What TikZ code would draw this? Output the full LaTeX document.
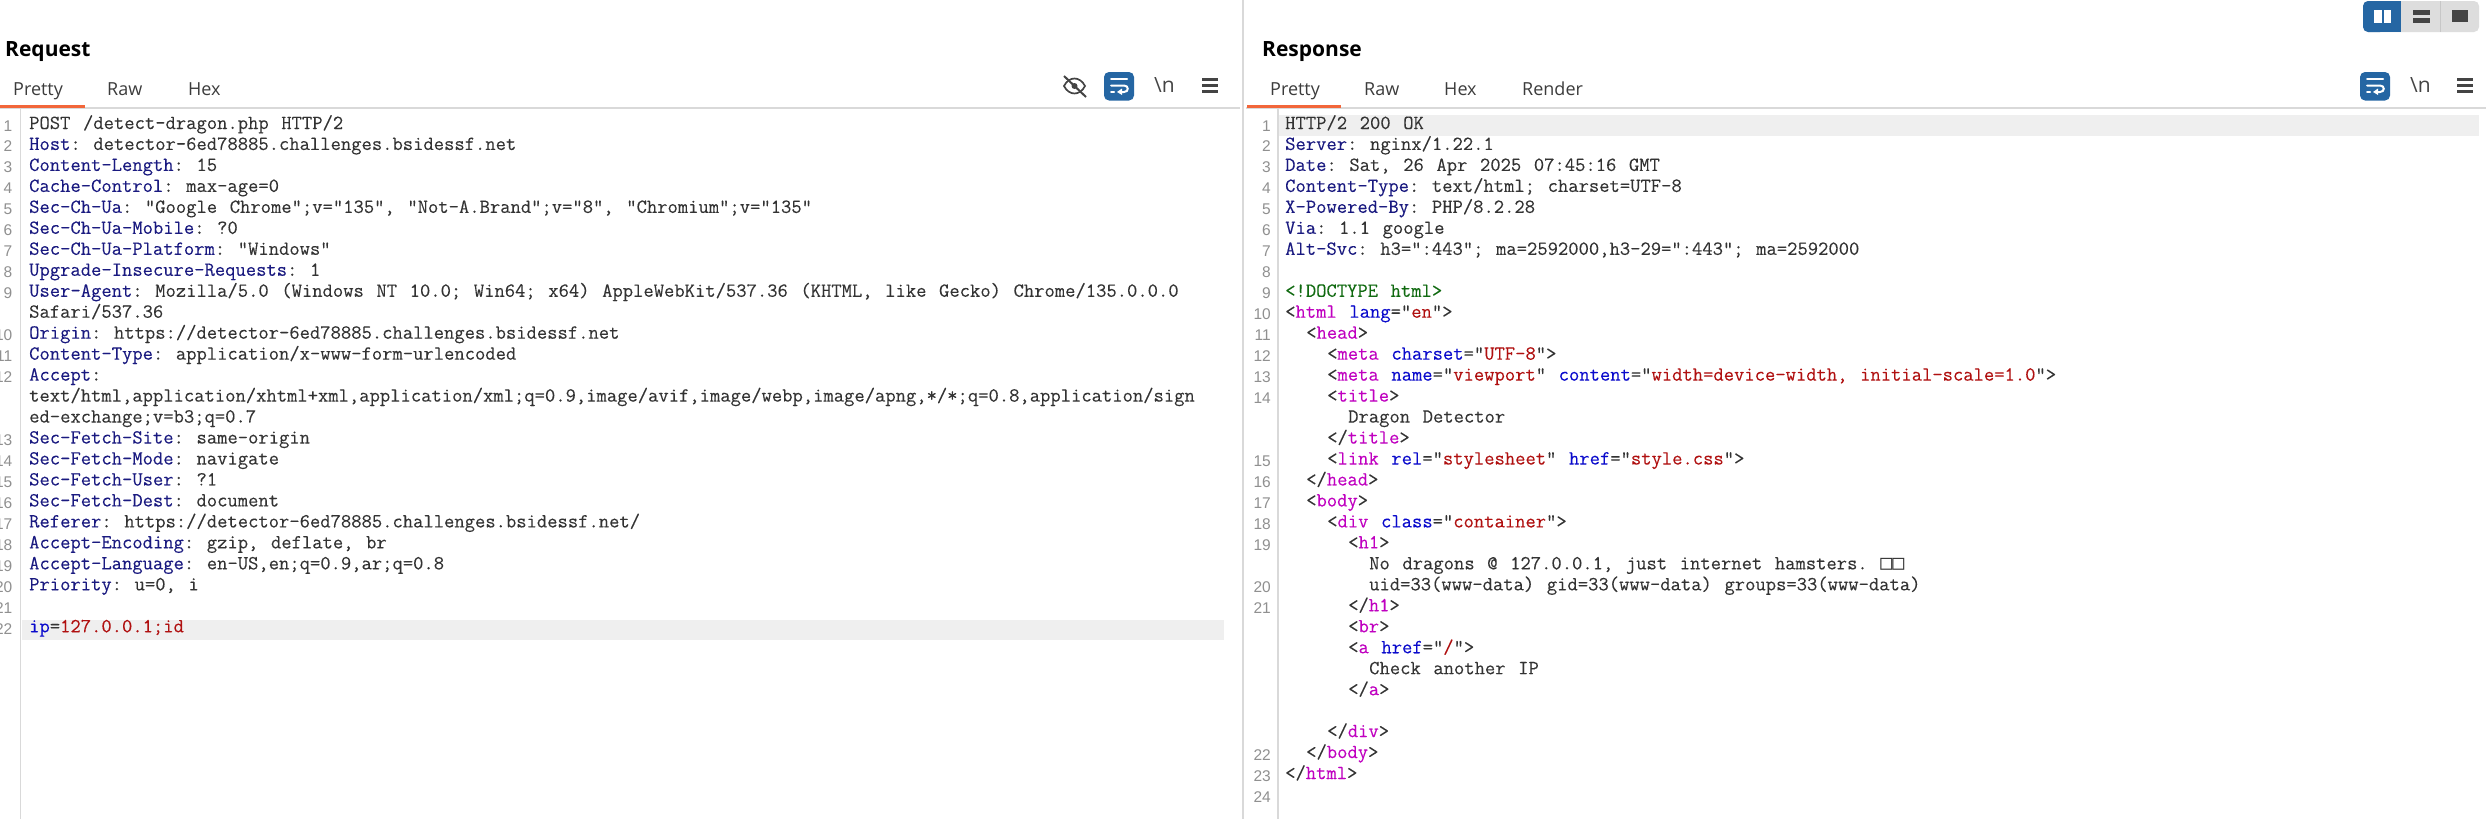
\documentclass[tikz,border=0pt]{standalone}
\usepackage{fontspec}
\newfontfamily\codefont[FakeBold=0.12,Kerning=Off,Ligatures={NoCommon,NoContextual}]{Latin Modern Mono}
\newfontfamily\uifont{Open Sans}
\newfontfamily\numfont{Liberation Sans}
\newfontfamily\boxfont{DejaVu Sans Mono}
\definecolor{codedark}{HTML}{333333}
\definecolor{hdrblue}{HTML}{1A1A80}
\definecolor{tagm}{HTML}{C000C0}
\definecolor{attrb}{HTML}{0A0ACC}
\definecolor{valr}{HTML}{B01010}
\definecolor{docg}{HTML}{106A10}
\definecolor{numgray}{HTML}{909090}
\definecolor{rulegray}{HTML}{D9D9D9}
\definecolor{hilite}{HTML}{EFEFEF}
\definecolor{tabline}{HTML}{F2663A}
\definecolor{burpblue}{HTML}{2566A3}
\definecolor{togglegray}{HTML}{DDDDDD}
\definecolor{icondark}{HTML}{444444}
\definecolor{tabink}{HTML}{3C3C3C}
\newcommand\Hn[1]{\textcolor{hdrblue}{#1}}
\newcommand\Tn[1]{\textcolor{tagm}{#1}}
\newcommand\An[1]{\textcolor{attrb}{#1}}
\newcommand\Av[1]{\textcolor{valr}{#1}}
\newcommand\fixsp{\spaceskip=12.6pt\relax\xspaceskip=12.6pt\relax}
% code line: name, x, row, content
\newcommand\codeline[4]{\node[codetext] (#1) at (#2,{129+20.97*#3}) {\fixsp #4};}
\newcommand\numline[4]{\node[numtext] (#1) at (#2,{131+20.97*#3}) {#4};}
\tikzset{
  codetext/.style={anchor=base west,inner sep=0pt,text=codedark,font=\fontsize{20.03}{21}\selectfont\codefont},
  numtext/.style={anchor=base east,inner sep=0pt,text=numgray,font=\fontsize{15.5}{16}\selectfont\numfont},
  titletext/.style={anchor=base west,inner sep=0pt,text=black,font=\fontsize{21}{24}\selectfont\uifont\bfseries},
  tabtext/.style={anchor=base west,inner sep=0pt,text=tabink,font=\fontsize{18}{22}\selectfont\uifont},
  gline/.style={draw=rulegray,line width=1.6pt},
  bars/.style={draw=icondark,line width=3pt},
  whitebar/.style={draw=white,line width=2pt,line cap=round},
  nlabel/.style={inner sep=0pt,text=icondark,font=\fontsize{21}{22}\selectfont\uifont}
}
\begin{document}
\begin{tikzpicture}[x=1pt,y=-1pt]
\useasboundingbox (0,0) rectangle (2486,819);
\fill[white] (0,0) rectangle (2486,819);
% rows highlighted
\fill[hilite] (22,619.5) rectangle (1224,640);
\fill[hilite] (1279,115) rectangle (2479,136);
% panel rules
\draw[gline] (0,108) -- (1240,108);
\draw[gline] (1246,108) -- (2486,108);
\draw[gline] (20.5,108) -- (20.5,819);
\draw[gline] (1278,108) -- (1278,819);
\draw[draw=rulegray,line width=2pt] (1243,0) -- (1243,819);
\fill[tabline] (0,104.5) rectangle (84.5,107.5);
\fill[tabline] (1247,104.5) rectangle (1341,107.5);
% titles and tabs
\node[titletext] (reqtitle) at (5,56) {Request};
\node[titletext] (restitle) at (1262,56) {Response};
\node[tabtext] (reqpretty) at (13,95) {Pretty};
\node[tabtext] (reqraw) at (107,95) {Raw};
\node[tabtext] (reqhex) at (188,95) {Hex};
\node[tabtext] (respretty) at (1270,95) {Pretty};
\node[tabtext] (resraw) at (1364,95) {Raw};
\node[tabtext] (reshex) at (1444,95) {Hex};
\node[tabtext] (resrender) at (1522,95) {Render};
% layout toggle
\fill[togglegray,rounded corners=5pt] (2363,1) rectangle (2479,32);
\fill[burpblue,rounded corners=5pt] (2363,1) rectangle (2385,32);
\fill[burpblue] (2375,1) rectangle (2400.5,32);
\draw[draw=rulegray!80!gray,line width=1pt] (2440,1) -- (2440,32);
\fill[white] (2374,10) rectangle (2382,23);
\fill[white] (2384,10) rectangle (2391,23);
\fill[icondark] (2413,10) rectangle (2430,15);
\fill[icondark] (2413,17.5) rectangle (2430,23);
\fill[icondark] (2452,10) rectangle (2468,22);
% left toolbar
\draw[icondark,line width=1.7pt] (1064,86) .. controls (1069,76) and (1080,76) .. (1085,86) .. controls (1080,96) and (1069,96) .. (1064,86) -- cycle;
\fill[icondark] (1074.5,86) circle (3pt);
\draw[icondark,line width=2pt] (1064,76) -- (1086,97);
\fill[burpblue,rounded corners=5pt] (1104,72) rectangle (1134,100.5);
\draw[whitebar] (1111,79) -- (1127,79);
\draw[whitebar] (1111,85.5) -- (1124,85.5) .. controls (1129,85.5) and (1129,92) .. (1124,92) -- (1120,92);
\draw[whitebar] (1111,92) -- (1114,92);
\fill[white] (1117,92) -- (1122,88.5) -- (1122,95) -- cycle;
\node[nlabel] (reqnl) at (1164.5,85) {\textbackslash n};
\draw[bars] (1202,79.5) -- (1218,79.5) (1202,85.5) -- (1218,85.5) (1202,91.5) -- (1218,91.5);
% right toolbar
\fill[burpblue,rounded corners=5pt] (2360,72) rectangle (2390,100.5);
\draw[whitebar] (2367,79) -- (2383,79);
\draw[whitebar] (2367,85.5) -- (2380,85.5) .. controls (2385,85.5) and (2385,92) .. (2380,92) -- (2376,92);
\draw[whitebar] (2367,92) -- (2370,92);
\fill[white] (2373,92) -- (2378,88.5) -- (2378,95) -- cycle;
\node[nlabel] (resnl) at (2420.5,85) {\textbackslash n};
\draw[bars] (2457,79.5) -- (2473,79.5) (2457,85.5) -- (2473,85.5) (2457,91.5) -- (2473,91.5);
% request numbers
\foreach \n/\r in {1/0,2/1,3/2,4/3,5/4,6/5,7/6,8/7,9/8,10/10,11/11,12/12,13/15,14/16,15/17,16/18,17/19,18/20,19/21,20/22,21/23,22/24}
  {\numline{qn\n}{12.5}{\r}{\n}}
% response numbers
\foreach \n/\r in {1/0,2/1,3/2,4/3,5/4,6/5,7/6,8/7,9/8,10/9,11/10,12/11,13/12,14/13,15/16,16/17,17/18,18/19,19/20,20/22,21/23,22/30,23/31,24/32}
  {\numline{sn\n}{1271}{\r}{\n}}
% request text
\def\qx{29}
\codeline{q0}{\qx}{0}{POST /detect-dragon.php HTTP/2}
\codeline{q1}{\qx}{1}{\Hn{Host}: detector-6ed78885.challenges.bsidessf.net}
\codeline{q2}{\qx}{2}{\Hn{Content-Length}: 15}
\codeline{q3}{\qx}{3}{\Hn{Cache-Control}: max-age=0}
\codeline{q4}{\qx}{4}{\Hn{Sec-Ch-Ua}: "Google Chrome";v="135", "Not-A.Brand";v="8", "Chromium";v="135"}
\codeline{q5}{\qx}{5}{\Hn{Sec-Ch-Ua-Mobile}: ?0}
\codeline{q6}{\qx}{6}{\Hn{Sec-Ch-Ua-Platform}: "Windows"}
\codeline{q7}{\qx}{7}{\Hn{Upgrade-Insecure-Requests}: 1}
\codeline{q8}{\qx}{8}{\Hn{User-Agent}: Mozilla/5.0 (Windows NT 10.0; Win64; x64) AppleWebKit/537.36 (KHTML, like Gecko) Chrome/135.0.0.0}
\codeline{q9}{\qx}{9}{Safari/537.36}
\codeline{q10}{\qx}{10}{\Hn{Origin}: https://detector-6ed78885.challenges.bsidessf.net}
\codeline{q11}{\qx}{11}{\Hn{Content-Type}: application/x-www-form-urlencoded}
\codeline{q12}{\qx}{12}{\Hn{Accept}:}
\codeline{q13}{\qx}{13}{text/html,application/xhtml+xml,application/xml;q=0.9,image/avif,image/webp,image/apng,*/*;q=0.8,application/sign}
\codeline{q14}{\qx}{14}{ed-exchange;v=b3;q=0.7}
\codeline{q15}{\qx}{15}{\Hn{Sec-Fetch-Site}: same-origin}
\codeline{q16}{\qx}{16}{\Hn{Sec-Fetch-Mode}: navigate}
\codeline{q17}{\qx}{17}{\Hn{Sec-Fetch-User}: ?1}
\codeline{q18}{\qx}{18}{\Hn{Sec-Fetch-Dest}: document}
\codeline{q19}{\qx}{19}{\Hn{Referer}: https://detector-6ed78885.challenges.bsidessf.net/}
\codeline{q20}{\qx}{20}{\Hn{Accept-Encoding}: gzip, deflate, br}
\codeline{q21}{\qx}{21}{\Hn{Accept-Language}: en-US,en;q=0.9,ar;q=0.8}
\codeline{q22}{\qx}{22}{\Hn{Priority}: u=0, i}
\codeline{q24}{\qx}{24}{\An{ip}=\Av{127.0.0.1;id}}
% response text
\def\sx{1285}
\def\sa{1306}
\def\sb{1327}
\def\sc{1348}
\def\sd{1369}
\codeline{s0}{\sx}{0}{HTTP/2 200 OK}
\codeline{s1}{\sx}{1}{\Hn{Server}: nginx/1.22.1}
\codeline{s2}{\sx}{2}{\Hn{Date}: Sat, 26 Apr 2025 07:45:16 GMT}
\codeline{s3}{\sx}{3}{\Hn{Content-Type}: text/html; charset=UTF-8}
\codeline{s4}{\sx}{4}{\Hn{X-Powered-By}: PHP/8.2.28}
\codeline{s5}{\sx}{5}{\Hn{Via}: 1.1 google}
\codeline{s6}{\sx}{6}{\Hn{Alt-Svc}: h3=":443"; ma=2592000,h3-29=":443"; ma=2592000}
\codeline{s8}{\sx}{8}{\textcolor{docg}{<!DOCTYPE html>}}
\codeline{s9}{\sx}{9}{<\Tn{html} \An{lang}="\Av{en}">}
\codeline{s10}{\sa}{10}{<\Tn{head}>}
\codeline{s11}{\sb}{11}{<\Tn{meta} \An{charset}="\Av{UTF-8}">}
\codeline{s12}{\sb}{12}{<\Tn{meta} \An{name}="\Av{viewport}" \An{content}="\Av{width=device-width, initial-scale=1.0}">}
\codeline{s13}{\sb}{13}{<\Tn{title}>}
\codeline{s14}{\sc}{14}{Dragon Detector}
\codeline{s15}{\sb}{15}{</\Tn{title}>}
\codeline{s16}{\sb}{16}{<\Tn{link} \An{rel}="\Av{stylesheet}" \An{href}="\Av{style.css}">}
\codeline{s17}{\sa}{17}{</\Tn{head}>}
\codeline{s18}{\sa}{18}{<\Tn{body}>}
\codeline{s19}{\sb}{19}{<\Tn{div} \An{class}="\Av{container}">}
\codeline{s20}{\sc}{20}{<\Tn{h1}>}
\codeline{s21}{\sd}{21}{No dragons @ 127.0.0.1, just internet hamsters. {\fontsize{20}{21}\selectfont\boxfont □□}}
\codeline{s22}{\sd}{22}{uid=33(www-data) gid=33(www-data) groups=33(www-data)}
\codeline{s23}{\sc}{23}{</\Tn{h1}>}
\codeline{s24}{\sc}{24}{<\Tn{br}>}
\codeline{s25}{\sc}{25}{<\Tn{a} \An{href}="\Av{/}">}
\codeline{s26}{\sd}{26}{Check another IP}
\codeline{s27}{\sc}{27}{</\Tn{a}>}
\codeline{s29}{\sb}{29}{</\Tn{div}>}
\codeline{s30}{\sa}{30}{</\Tn{body}>}
\codeline{s31}{\sx}{31}{</\Tn{html}>}
\end{tikzpicture}
\end{document}
